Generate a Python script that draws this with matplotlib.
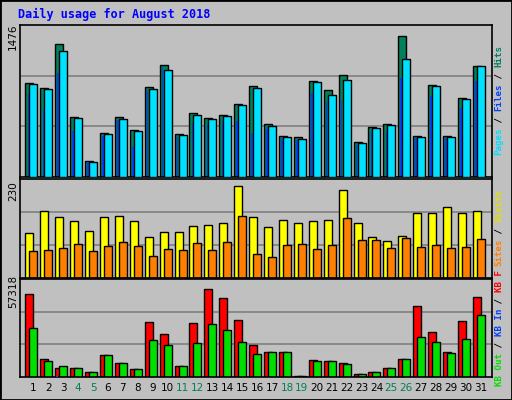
import matplotlib
matplotlib.use("Agg")
import matplotlib.pyplot as plt
import numpy as np

days = list(range(1, 32))
weekends = [4, 5, 11, 12, 18, 19, 25, 26]
hits = [945, 897, 1344, 606, 164, 446, 606, 470, 907, 1136, 437, 645, 597, 626, 742, 917, 534, 417, 408, 966, 878, 1033, 349, 505, 534, 1422, 417, 926, 417, 795, 1126]
files = [935, 887, 1276, 597, 155, 437, 587, 461, 887, 1078, 427, 626, 587, 616, 732, 897, 515, 408, 388, 956, 829, 975, 340, 495, 524, 1190, 408, 917, 408, 785, 1117]
pages = [839, 684, 1049, 466, 155, 417, 577, 301, 868, 1107, 408, 549, 529, 568, 568, 446, 485, 379, 369, 849, 762, 780, 320, 456, 466, 1000, 398, 820, 398, 700, 970]
visits = [105, 156, 142, 133, 109, 142, 144, 133, 95, 107, 107, 121, 123, 128, 214, 142, 119, 135, 128, 133, 135, 205, 128, 95, 86, 98, 151, 151, 165, 151, 156]
sites = [63, 65, 70, 79, 63, 74, 84, 74, 51, 67, 65, 81, 65, 84, 144, 56, 49, 77, 79, 67, 77, 139, 88, 88, 70, 93, 72, 77, 70, 72, 91]
kbf = [50200, 10800, 5600, 5600, 3300, 13200, 8600, 5100, 32900, 25900, 6800, 32300, 53100, 47300, 34500, 19400, 15300, 15300, 400, 10200, 9600, 8500, 2100, 3300, 5600, 10800, 42700, 27100, 15300, 33500, 47900]
kbin = [300, 300, 900, 200, 100, 300, 300, 200, 300, 300, 200, 300, 300, 300, 300, 300, 300, 300, 100, 300, 300, 300, 100, 200, 200, 300, 300, 300, 300, 300, 300]
kbout = [29300, 9600, 6800, 5600, 3300, 13200, 8600, 5100, 22500, 19000, 6800, 20200, 31800, 28300, 21300, 14100, 15300, 15300, 400, 9600, 9600, 7900, 2100, 3300, 5600, 10800, 24200, 21300, 14700, 22900, 37400]

W, H = 512, 400
BG = "#c0c0c0"
fig = plt.figure(figsize=(W/100, H/100), dpi=100, facecolor=BG)
fig.patches.append(plt.Rectangle((0, 0), 1, 1, transform=fig.transFigure, fill=False, edgecolor="black", lw=2))
fig.text(18/W, 1-14/H, "Daily usage for August 2018", color="#0000ff", fontsize=8.5,
         fontweight="bold", family="DejaVu Sans Mono", va="center")

x = np.array(days, dtype=float)
u = 1/14.9

def mkax(top, bottom, ymax, label):
    ax = fig.add_axes([20/W, 1-bottom/H, 472/W, (bottom-top)/H])
    ax.set_facecolor(BG)
    ax.set_xlim(0.1, 31.75)
    ax.set_ylim(0, ymax)
    for t in [ymax/3, 2*ymax/3]:
        ax.axhline(t, color="#808080", lw=1.2, zorder=0)
    ax.set_xticks([]); ax.set_yticks([])
    for s in ax.spines.values():
        s.set_color("black"); s.set_linewidth(1.2)
    fig.text(13/W, 1-(top+12)/H, label, rotation=90, fontsize=7.5, va="center", ha="center")
    return ax

def bars(ax, vals, off, width, color, z=2):
    ax.bar(x + (off + width/2)*u, vals, width=width*u, color=color, edgecolor="black", lw=1, zorder=z)

ax1 = mkax(25, 177, 1476*1.04, "1476")
bars(ax1, hits, -8, 8, "#00805c")
ax1.bar(x - 5*u, pages, width=1.5*u, color="#0040ff", lw=0, zorder=2.5)
bars(ax1, files, -4, 8, "#00e0ff", 3)

ax2 = mkax(179, 278, 230*1.0, "230")
bars(ax2, visits, -8, 8, "#ffff00")
bars(ax2, sites, -4, 8, "#ff8000")

ax3 = mkax(279, 377, 57318*1.03, "57318")
bars(ax3, kbf, -8, 8, "#ff0000")
ax3.bar(x - 6*u, kbin, width=1.5*u, color="#0040ff", lw=0, zorder=3)
bars(ax3, kbout, -4, 8, "#00e000")

for d in days:
    px = 20 + (d - 0.1)*472/31.65
    fig.text(px/W, 1-388/H, str(d), ha="center", va="center", fontsize=7.5,
             color="#00805c" if d in weekends else "black")

CH = 5.5
def rlabel(ycenter, parts):
    total = sum(len(p[0]) for p in parts)
    y = ycenter + total*CH/2
    for txt, col in parts:
        h = len(txt)*CH
        fig.text(499/W, 1-(y-h/2)/H, txt, rotation=90, color=col, fontsize=6.6,
                 family="DejaVu Sans Mono", fontweight="bold", ha="center", va="center")
        y -= h

rlabel(100, [("Pages", "#00e0ff"), (" / ", "black"), ("Files", "#0040ff"), (" / ", "black"), ("Hits", "#00805c")])
rlabel(228, [("Sites", "#ff8000"), (" / ", "black"), ("Visits", "#e0e000")])
rlabel(328, [("KB Out", "#00e000"), (" / ", "black"), ("KB In", "#0040ff"), (" / ", "black"), ("KB F", "#ff0000")])

fig.savefig("out.png", dpi=100, facecolor=BG)
